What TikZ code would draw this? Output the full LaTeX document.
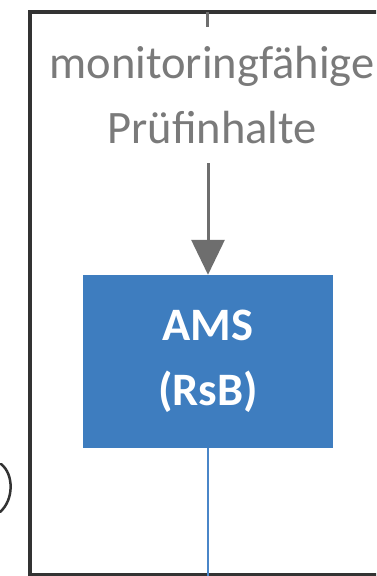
\documentclass[tikz,border=0pt]{standalone}
\usepackage{fontspec}
\setmainfont{Carlito}
\usetikzlibrary{arrows.meta}
\definecolor{framecol}{HTML}{333333}
\definecolor{graytext}{HTML}{7A7A7A}
\definecolor{arrowgray}{HTML}{6E6E6E}
\definecolor{boxblue}{HTML}{3E7DBF}
\definecolor{lineblue}{HTML}{4A86C8}
\tikzset{
  frameline/.style={draw=framecol, line width=4pt},
  graylabel/.style={text=graytext, font=\fontsize{46.5}{65}\selectfont, align=center, inner sep=0pt},
  amsbox/.style={fill=boxblue, text=white, font=\fontsize{46.5}{65}\selectfont\bfseries, align=center, minimum width=250pt, minimum height=173pt, inner sep=0pt},
  grayarrow/.style={draw=arrowgray, line width=3pt, -{Triangle[width=33pt,length=35pt]}},
  blueline/.style={draw=lineblue, line width=2.5pt},
}
\begin{document}
\begin{tikzpicture}[x=1pt,y=-1pt]
\useasboundingbox (0,0) rectangle (376,576);
\clip (0,0) rectangle (376,576);
\fill[white] (0,0) rectangle (376,576);
% frame
\draw[frameline] (420,12) -- (30,12) -- (30,575) -- (420,575);
% tick at top
\coordinate (tickTop) at (207,12);
\coordinate (tickBot) at (207,27);
\draw[draw=arrowgray, line width=3pt] (tickTop) -- (tickBot);
% label
\node[graylabel, anchor=base] (lbl) at (212,143) {monitoringfähige\\Prüfinhalte};
% box
\node[amsbox] (ams) at (208,361.5) {AMS\\(RsB)};
% arrow
\coordinate (arrStart) at (208,163);
\draw[grayarrow] (arrStart) -- (ams.north);
% line below
\coordinate (lineEnd) at (208,580);
\draw[blueline] (ams.south) -- (lineEnd);
% partial glyph at left
\draw[draw=framecol, line width=2.5pt, line cap=round] (1,464) .. controls (14,474) and (14,500) .. (0,512);
\end{tikzpicture}
\end{document}
